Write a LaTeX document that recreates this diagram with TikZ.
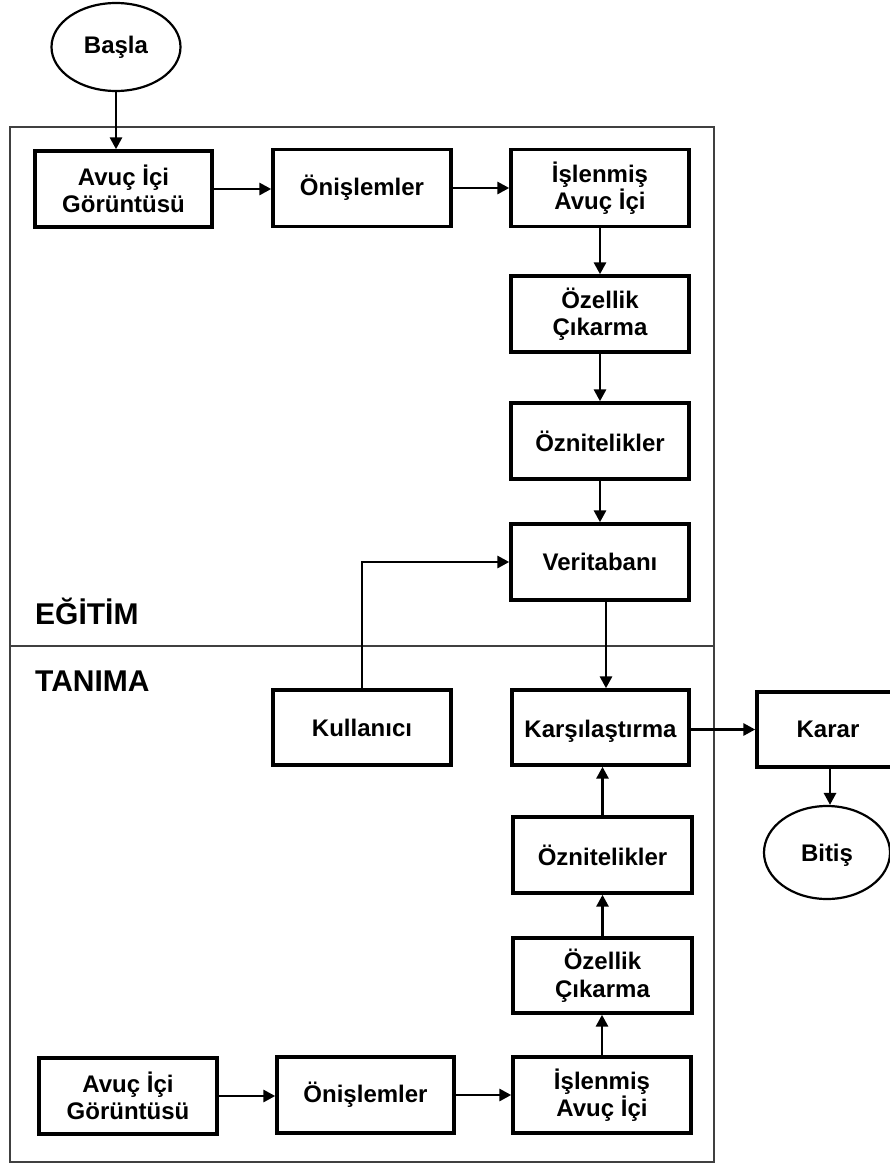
\documentclass[tikz,border=0pt]{standalone}
\usepackage{fontspec}
\setmainfont{Liberation Sans}
\usetikzlibrary{arrows.meta,shapes.geometric}

% set a label with no depth so descenders do not lift it
\newcommand{\nodepth}[1]{\raisebox{0pt}[\height][0pt]{#1}}

\tikzset{
  stepbox/.style={draw, line width=3.4pt, rectangle, inner sep=0pt,
    minimum width=178pt, minimum height=76pt, align=center,
    font=\fontsize{24}{27.5}\selectfont\bfseries},
  terminal/.style={draw, line width=2.2pt, ellipse, inner sep=0pt,
    font=\fontsize{24}{27.5}\selectfont\bfseries},
  flow/.style={line width=2.9pt, -{Triangle[length=12pt,width=12pt]}},
  frame/.style={line width=1.5pt, draw=black!75},
  phase/.style={anchor=west, inner sep=0pt, font=\fontsize{30}{34}\selectfont\bfseries}
}

\begin{document}
\begin{tikzpicture}[x=1pt,y=-1pt]
\useasboundingbox (0,0) rectangle (889,1164);

% enclosing frame and the split between the two phases
\draw[frame] (10,127) rectangle (714,1162);
\draw[frame] (10,646) -- (714,646);
\node[phase] (egitim) at (35,611) {EĞİTİM};
\node[phase] (tanima) at (35,681) {TANIMA};

% terminals
\node[terminal, minimum width=129pt, minimum height=88pt] (start) at (116,47) {Başla};
\node[terminal, minimum width=126pt, minimum height=93pt] (bitis) at (827,852.5) {\nodepth{Bitiş}};

% training phase
\node[stepbox, minimum width=177pt] (img1) at (123.5,189) {Avuç İçi\\Görüntüsü};
\node[stepbox, minimum height=77pt] (pre1) at (362,188) {Önişlemler};
\node[stepbox, minimum height=77pt] (proc1) at (600,188) {İşlenmiş\\Avuç İçi};
\node[stepbox] (feat1) at (600,314) {Özellik\\Çıkarma};
\node[stepbox] (attr1) at (600,441) {Öznitelikler};
\node[stepbox] (db) at (600,562) {Veritabanı};

% recognition phase
\node[stepbox, minimum height=75pt] (user) at (362,727.5) {Kullanıcı};
\node[stepbox, minimum width=177pt, minimum height=75pt] (cmp) at (600.5,727.5) {\nodepth{\vphantom{Ö}Karşılaştırma}};
\node[stepbox, minimum width=142pt, minimum height=75pt] (karar) at (828,729.5) {Karar};
\node[stepbox, minimum width=179pt] (attr2) at (602.5,855) {Öznitelikler};
\node[stepbox, minimum width=179pt, minimum height=75pt] (feat2) at (602.5,975.5) {Özellik\\Çıkarma};
\node[stepbox] (img2) at (128,1096) {Avuç İçi\\Görüntüsü};
\node[stepbox, minimum width=177pt] (pre2) at (365.5,1095) {Önişlemler};
\node[stepbox] (proc2) at (602,1095) {İşlenmiş\\Avuç İçi};

% connectors
\draw[flow] (start.south) -- (start.south |- img1.north);
\draw[flow] (img1.east) -- (pre1.west |- img1.east);
\draw[flow] (pre1.east) -- (proc1.west);
\draw[flow] (proc1.south) -- (feat1.north);
\draw[flow] (feat1.south) -- (attr1.north);
\draw[flow] (attr1.south) -- (db.north);
\draw[flow] (user.north) |- (db.west);
\draw[flow] ([xshift=6pt]db.south) -- ([xshift=5.5pt]cmp.north);
\draw[flow] (cmp.east |- karar.west) -- (karar.west);
\draw[flow] ([xshift=2pt]karar.south) -- ([xshift=3pt]bitis.north);
\draw[flow] (attr2.north) -- (attr2.north |- cmp.south);
\draw[flow] (feat2.north) -- (attr2.south);
\draw[flow] (proc2.north) -- (proc2.north |- feat2.south);
\draw[flow] (img2.east) -- (pre2.west |- img2.east);
\draw[flow] (pre2.east) -- (proc2.west);
\end{tikzpicture}
\end{document}
